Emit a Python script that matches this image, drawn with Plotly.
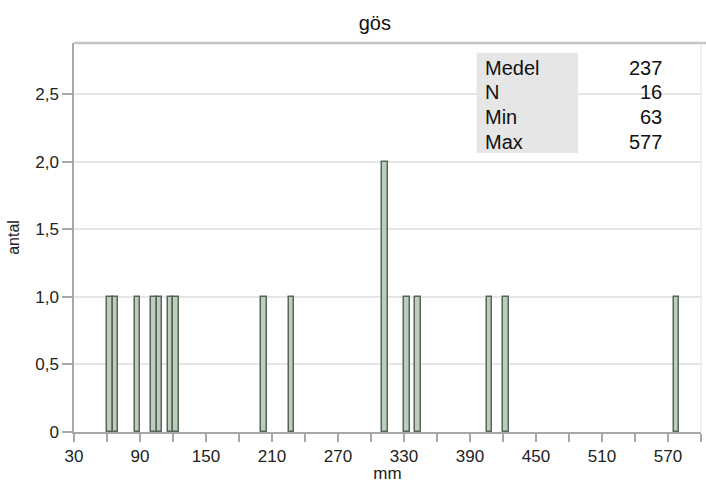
import plotly.graph_objects as go

# Length histogram: 5 mm bins (lower edge) and number of fish per bin
bin_start = [60, 65, 85, 100, 105, 115, 120, 200, 225, 310, 330, 340, 405, 420, 575]
counts = [1, 1, 1, 1, 1, 1, 1, 1, 1, 2, 1, 1, 1, 1, 1]
bin_width = 5

# Summary table shown in the corner
stat_names = ["Medel", "N", "Min", "Max"]
stat_values = ["237", "16", "63", "577"]

# Axis ticks
x_tick_vals = list(range(30, 601, 30))
x_tick_text = [str(v) if (v - 30) % 60 == 0 and v < 600 else "" for v in x_tick_vals]
y_tick_vals = [0, 0.5, 1.0, 1.5, 2.0, 2.5]
y_tick_text = ["0", "0,5", "1,0", "1,5", "2,0", "2,5"]

FONT = "Liberation Sans, Arial, Helvetica, sans-serif"

fig = go.Figure()
fig.add_trace(go.Bar(
    x=[s + bin_width / 2 for s in bin_start],
    y=counts,
    width=[bin_width] * len(bin_start),
    marker=dict(color="#bccfbc", line=dict(color="#56655a", width=1.5)),
    hoverinfo="x+y",
))

# grey box behind the statistic names
fig.add_shape(type="rect", xref="paper", yref="paper",
              x0=0.642, x1=0.804, y0=0.717, y1=0.975,
              fillcolor="#e6e6e6", line=dict(width=0), layer="above")

row_y = [0.936, 0.873, 0.810, 0.746]
for name, val, yy in zip(stat_names, stat_values, row_y):
    fig.add_annotation(xref="paper", yref="paper", x=0.652, y=yy,
                       text=name, showarrow=False, xanchor="left", yanchor="middle",
                       font=dict(size=20, color="#111111", family=FONT))
    fig.add_annotation(xref="paper", yref="paper", x=0.941, y=yy,
                       text=val, showarrow=False, xanchor="right", yanchor="middle",
                       font=dict(size=20, color="#111111", family=FONT))

# frame lines along the top and right of the plot area
fig.add_shape(type="line", xref="paper", yref="paper", x0=0, x1=1.01, y0=1, y1=1,
              line=dict(color="#c4c4c4", width=2.5))
fig.add_shape(type="line", xref="paper", yref="paper", x0=1, x1=1, y0=0, y1=1,
              line=dict(color="#e2e2e2", width=1))

fig.update_layout(
    width=706, height=483,
    margin=dict(l=74, r=5, t=43, b=51),
    paper_bgcolor="white", plot_bgcolor="white",
    font=dict(family=FONT, size=17, color="#222222"),
    title=dict(text="gös", x=0.531, xanchor="center", y=0.952, yanchor="middle",
               font=dict(size=20, color="#111111", family=FONT)),
    showlegend=False,
    bargap=0,
)

fig.update_xaxes(
    range=[30, 600], tickmode="array", tickvals=x_tick_vals, ticktext=x_tick_text,
    ticks="outside", ticklen=8, tickwidth=1.5, tickcolor="#a8a8a8",
    showline=True, linecolor="#a8a8a8", linewidth=1.5,
    showgrid=False, zeroline=False, automargin=False,
    title=dict(text="mm", standoff=9, font=dict(size=17, family=FONT)),
    tickfont=dict(size=17, family=FONT, color="#222222"),
)
fig.update_yaxes(
    range=[0, 2.88], tickmode="array", tickvals=y_tick_vals, ticktext=y_tick_text,
    ticks="outside", ticklen=10, tickwidth=1.5, tickcolor="#a8a8a8",
    showline=True, linecolor="#a8a8a8", linewidth=1.5,
    showgrid=True, gridcolor="#e6e6e6", gridwidth=1.5, zeroline=False, automargin=False,
    title=dict(text="antal", standoff=12, font=dict(size=16, family=FONT)),
    tickfont=dict(size=17, family=FONT, color="#222222"),
)

fig.write_html("out.html")
